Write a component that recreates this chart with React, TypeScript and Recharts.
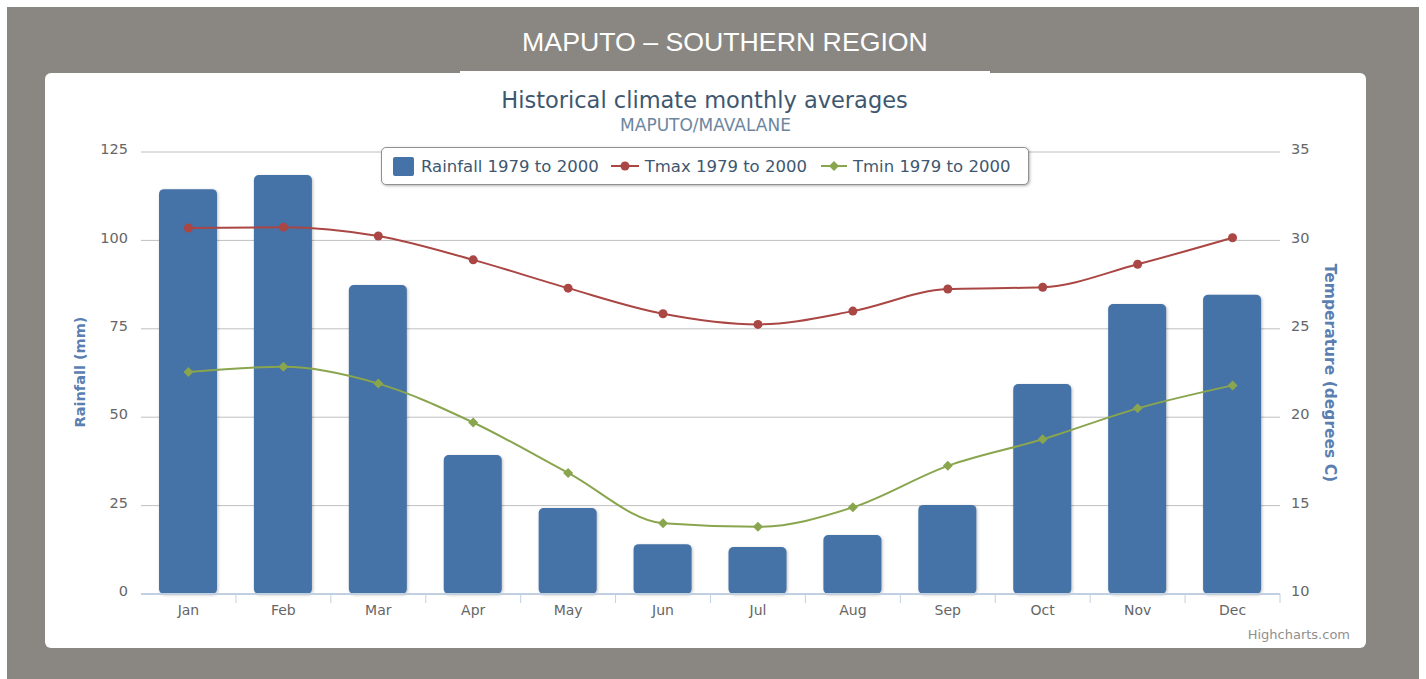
import React from "react";
import {
  ComposedChart,
  Bar,
  Line,
  XAxis,
  YAxis,
  CartesianGrid,
  Rectangle,
} from "recharts";

const months = ["Jan", "Feb", "Mar", "Apr", "May", "Jun", "Jul", "Aug", "Sep", "Oct", "Nov", "Dec"];
const rainfall = [114.5, 118.5, 87.4, 39.3, 24.3, 14.1, 13.3, 16.7, 25.2, 59.4, 82.0, 84.6];
const tmax = [30.7, 30.75, 30.25, 28.9, 27.3, 25.85, 25.25, 26.0, 27.25, 27.35, 28.65, 30.15];
const tmin = [22.55, 22.85, 21.9, 19.7, 16.85, 14.0, 13.8, 14.9, 17.25, 18.75, 20.5, 21.8];
const rainTicks = [0, 25, 50, 75, 100, 125];
const tempTicks = [10, 15, 20, 25, 30, 35];

const chartData = months.map((m, i) => ({
  month: m,
  rain: rainfall[i],
  tmax: tmax[i],
  tmin: tmin[i],
}));

const CHART_W = 1321;
const CHART_H = 575;
const LEFT_W = 96;
const RIGHT_W = 86;
const BAND = (CHART_W - LEFT_W - RIGHT_W) / months.length;

const FONT = "'DejaVu Sans', Verdana, sans-serif";
const BLUE = "#4572A7";
const RED = "#AA4643";
const GREEN = "#89A54E";

const MonthTick = (props: any) => {
  const { x, y, payload } = props;
  const axisY = y - 8;
  return (
    <g>
      <line x1={x + BAND / 2} x2={x + BAND / 2} y1={axisY} y2={axisY + 9} stroke="#C0D0E0" />
      <text x={x} y={y} dy={13} textAnchor="middle" fill="#666" fontSize={14} fontFamily={FONT}>
        {payload.value}
      </text>
    </g>
  );
};

const Diamond = (props: any) => {
  const { cx, cy } = props;
  if (cx == null || cy == null) return <g />;
  return (
    <polygon
      points={`${cx},${cy - 5} ${cx + 5},${cy} ${cx},${cy + 5} ${cx - 5},${cy}`}
      fill={GREEN}
    />
  );
};

const RainBar = (props: any) => (
  <Rectangle {...props} radius={5} style={{ filter: "drop-shadow(1px 1px 1.5px rgba(0,0,0,0.25))" }} />
);

const LegendBox = () => (
  <div
    style={{
      position: "absolute",
      left: 336,
      top: 74,
      width: 648,
      display: "flex",
      alignItems: "center",
      height: 38,
      boxSizing: "border-box",
      border: "1px solid #909090",
      borderRadius: 5,
      background: "#fff",
      boxShadow: "1px 1px 3px rgba(0,0,0,0.3)",
      fontFamily: FONT,
      fontSize: 16.5,
      color: "#3E576F",
      paddingLeft: 11,
      whiteSpace: "nowrap",
    }}
  >
    <span style={{ width: 21, height: 19, background: BLUE, borderRadius: 2, marginRight: 7 }} />
    <span style={{ marginRight: 12 }}>Rainfall 1979 to 2000</span>
    <svg width={28} height={12} style={{ marginRight: 6 }}>
      <line x1={0} x2={28} y1={6} y2={6} stroke={RED} strokeWidth={2} />
      <circle cx={14} cy={6} r={4.5} fill={RED} />
    </svg>
    <span style={{ marginRight: 14 }}>Tmax 1979 to 2000</span>
    <svg width={26} height={12} style={{ marginRight: 6 }}>
      <line x1={0} x2={26} y1={6} y2={6} stroke={GREEN} strokeWidth={2} />
      <polygon points="13,1 18,6 13,11 8,6" fill={GREEN} />
    </svg>
    <span>Tmin 1979 to 2000</span>
  </div>
);

export default function App() {
  return (
    <div style={{ position: "absolute", left: 7, top: 7, width: 1412, height: 672, background: "#8a8782" }}>
      <div
        style={{
          position: "absolute",
          left: 0,
          top: 20,
          width: 1436,
          textAlign: "center",
          color: "#fff",
          fontFamily: "'Liberation Sans', Arial, sans-serif",
          fontSize: 26.7,
        }}
      >
        MAPUTO – SOUTHERN REGION
      </div>
      <div style={{ position: "absolute", left: 453, top: 64, width: 530, height: 2, background: "#fff" }} />
      <div
        style={{
          position: "absolute",
          left: 38,
          top: 66,
          width: CHART_W,
          height: CHART_H,
          background: "#fff",
          borderRadius: 6,
          overflow: "hidden",
        }}
      >
        <div
          style={{
            position: "absolute",
            left: -1,
            top: 14,
            width: CHART_W,
            textAlign: "center",
            color: "#3E576F",
            fontFamily: FONT,
            fontSize: 22.5,
          }}
        >
          Historical climate monthly averages
        </div>
        <div
          style={{
            position: "absolute",
            left: 0,
            top: 42,
            width: CHART_W,
            textAlign: "center",
            color: "#6D869F",
            fontFamily: FONT,
            fontSize: 17,
          }}
        >
          MAPUTO/MAVALANE
        </div>
        <div
          style={{
            position: "absolute",
            left: 35,
            top: 299,
            transform: "translate(-50%, -50%) rotate(-90deg)",
            whiteSpace: "nowrap",
            color: "#5A7FB0",
            fontFamily: FONT,
            fontWeight: "bold",
            fontSize: 14.5,
          }}
        >
          Rainfall (mm)
        </div>
        <div
          style={{
            position: "absolute",
            left: 1285,
            top: 300,
            transform: "translate(-50%, -50%) rotate(90deg)",
            whiteSpace: "nowrap",
            color: "#5A7FB0",
            fontFamily: FONT,
            fontWeight: "bold",
            fontSize: 15.5,
          }}
        >
          Temperature (degrees C)
        </div>
        <div
          style={{
            position: "absolute",
            right: 16,
            top: 554,
            color: "#909090",
            fontFamily: FONT,
            fontSize: 13,
          }}
        >
          Highcharts.com
        </div>
        <ComposedChart
          width={CHART_W}
          height={CHART_H}
          data={chartData}
          margin={{ top: 79, right: 0, left: 0, bottom: 0 }}
        >
          <CartesianGrid yAxisId="left" vertical={false} stroke="#C0C0C0" />
          <XAxis
            dataKey="month"
            height={54}
            axisLine={{ stroke: "#C0D0E0", strokeWidth: 2 }}
            tickLine={false}
            tick={<MonthTick />}
            interval={0}
          />
          <YAxis
            yAxisId="left"
            width={LEFT_W}
            domain={[0, 125]}
            ticks={rainTicks}
            axisLine={false}
            tickLine={false}
            tickMargin={7}
            dy={-3}
            tick={{ fill: "#666", fontSize: 14.5, fontFamily: FONT }}
          />
          <YAxis
            yAxisId="right"
            orientation="right"
            width={RIGHT_W}
            domain={[10, 35]}
            ticks={tempTicks}
            axisLine={false}
            tickLine={false}
            tickMargin={5}
            dy={-3}
            tick={{ fill: "#666", fontSize: 14.5, fontFamily: FONT }}
          />
          <Bar yAxisId="left" dataKey="rain" fill={BLUE} barSize={58} shape={RainBar} isAnimationActive={false} />
          <Line
            yAxisId="right"
            type="monotone"
            dataKey="tmax"
            stroke={RED}
            strokeWidth={2}
            dot={{ r: 4.5, fill: RED, stroke: "none" }}
            activeDot={false}
            isAnimationActive={false}
          />
          <Line
            yAxisId="right"
            type="monotone"
            dataKey="tmin"
            stroke={GREEN}
            strokeWidth={2}
            dot={<Diamond />}
            activeDot={false}
            isAnimationActive={false}
          />
        </ComposedChart>
        <LegendBox />
      </div>
    </div>
  );
}
